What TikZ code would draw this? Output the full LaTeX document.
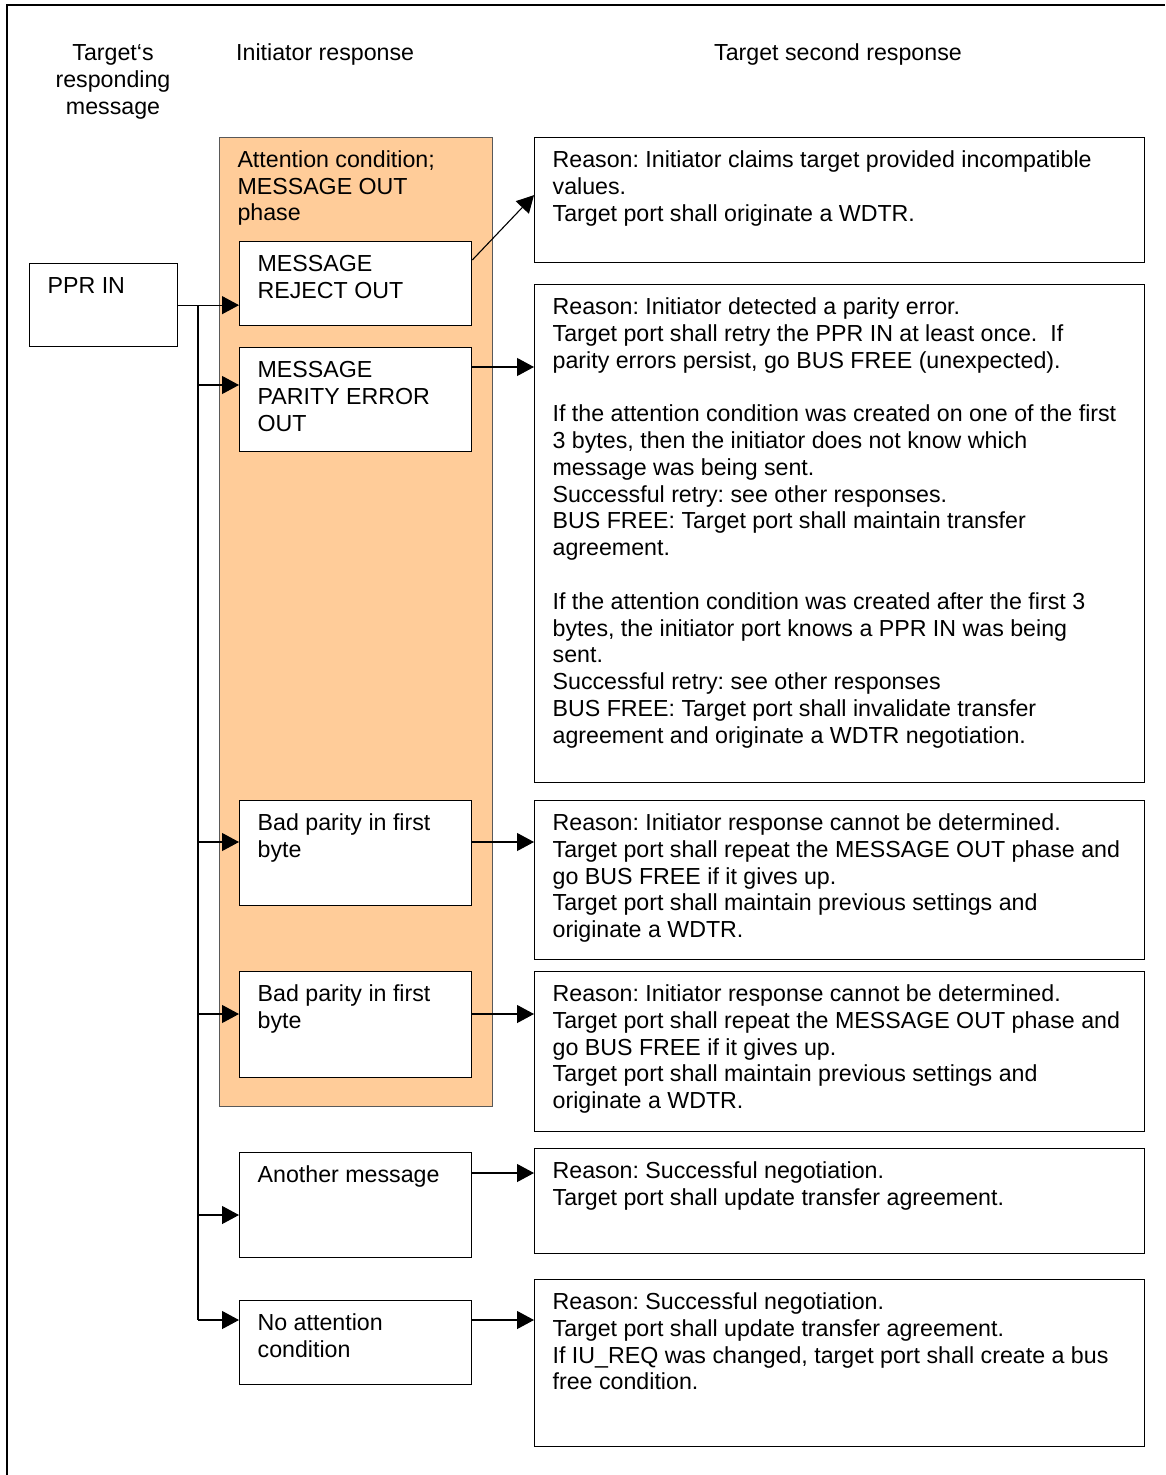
\documentclass[tikz,border=0pt]{standalone}
\usepackage{fontspec}
\setmainfont{Liberation Sans}
\usetikzlibrary{arrows.meta,positioning}

\definecolor{attnorange}{HTML}{FFCC99}
\frenchspacing

% box text: width, height (outer, in pt), text set top left
\newcommand{\boxtext}[3]{\parbox[c][\dimexpr#2pt-22pt\relax][t]{#1pt}{\raggedright\leftskip=18pt\strut#3}}

\tikzset{
  box/.style={draw, line width=1.3pt, fill=white, inner xsep=0pt, inner ysep=11pt, anchor=north west},
  arr/.style={-{Triangle[length=17pt,width=18pt]}, line width=1.1pt},
  trunk/.style={line width=1.1pt},
  head/.style={align=center, inner sep=0pt}
}

\begin{document}
\begin{tikzpicture}[x=1pt, y=-1pt, font=\fontsize{23.2}{26.8}\selectfont]

\useasboundingbox (0,0) rectangle (1165,1475);

% -------- Frame --------
\draw[line width=2pt] (7,1475) -- (7,5) -- (1165,5);

% -------- Column heads --------
\node[head] (hTarget) at (113,82) {Target‘s\\responding\\message};
\node[head, anchor=west] (hInit) at (236,55) {Initiator response};
\node[head] (hSecond) at (838,55) {Target second response};

% -------- Target's message --------
\node[box] (pprin) at (29,263) {\boxtext{148}{83}{PPR IN}};

% -------- Attention condition block --------
\node[box, fill=attnorange, draw=black!65, line width=1pt] (attn) at (219,137)
{\boxtext{273}{969}{Attention condition;\\MESSAGE OUT\\phase}};

% -------- Initiator responses --------
\node[box] (reject) at (239,241) {\boxtext{232}{84}{MESSAGE\\REJECT OUT}};
\node[box] (parity) at (239,347) {\boxtext{232}{104}{MESSAGE\\PARITY ERROR\\OUT}};
\node[box] (badfirst) at (239,800) {\boxtext{232}{105}{Bad parity in first\\byte}};
\node[box] (badsecond) at (239,971) {\boxtext{232}{106}{Bad parity in first\\byte}};
\node[box] (another) at (239,1152) {\boxtext{232}{105}{Another message}};
\node[box] (noattn) at (239,1300) {\boxtext{232}{84}{No attention\\condition}};

% -------- Target second responses --------
\node[box] (reason1) at (534,137) {\boxtext{610}{125}{Reason: Initiator claims target provided incompatible\\
values.\\
Target port shall originate a WDTR.}};

\node[box] (reason2) at (534,284) {\boxtext{610}{498}{Reason: Initiator detected a parity error.\\
Target port shall retry the PPR IN at least once.~~If\\
parity errors persist, go BUS FREE (unexpected).\\[\baselineskip]
If the attention condition was created on one of the first\\
3 bytes, then the initiator does not know which\\
message was being sent.\\
Successful retry: see other responses.\\
BUS FREE: Target port shall maintain transfer\\
agreement.\\[\baselineskip]
If the attention condition was created after the first 3\\
bytes, the initiator port knows a PPR IN was being\\
sent.\\
Successful retry: see other responses\\
BUS FREE: Target port shall invalidate transfer\\
agreement and originate a WDTR negotiation.}};

\node[box] (reason3) at (534,800) {\boxtext{610}{159}{Reason: Initiator response cannot be determined.\\
Target port shall repeat the MESSAGE OUT phase and\\
go BUS FREE if it gives up.\\
Target port shall maintain previous settings and\\
originate a WDTR.}};

\node[box] (reason4) at (534,971) {\boxtext{610}{160}{Reason: Initiator response cannot be determined.\\
Target port shall repeat the MESSAGE OUT phase and\\
go BUS FREE if it gives up.\\
Target port shall maintain previous settings and\\
originate a WDTR.}};

\node[box] (reason5) at (534,1148) {\boxtext{610}{105}{Reason: Successful negotiation.\\
Target port shall update transfer agreement.}};

\node[box] (reason6) at (534,1279) {\boxtext{610}{167}{Reason: Successful negotiation.\\
Target port shall update transfer agreement.\\
If IU\_REQ was changed, target port shall create a bus\\
free condition.}};

% -------- Connectors from PPR IN --------
\coordinate (split) at (198,304);
\draw[arr] (pprin.east) -- (pprin.east -| reject.west);
\foreach \name/\y in {parity/385, badfirst/842, badsecond/1014, another/1215, noattn/1320} {
  \coordinate (t-\name) at (198,\y);
  \draw[arr] (t-\name) -- (t-\name -| \name.west);
}
\draw[trunk] (pprin.east -| split) -- (t-noattn);

% -------- Connectors to second responses --------
\draw[arr] ([yshift=-19pt]reject.north east) -- ([yshift=5pt]reason1.west);
\foreach \src/\dst/\y in {parity/reason2/367, badfirst/reason3/842, badsecond/reason4/1014, another/reason5/1173, noattn/reason6/1320} {
  \coordinate (o-\src) at (0,\y);
  \draw[arr] (o-\src -| \src.east) -- (o-\src -| \dst.west);
}

\end{tikzpicture}
\end{document}
